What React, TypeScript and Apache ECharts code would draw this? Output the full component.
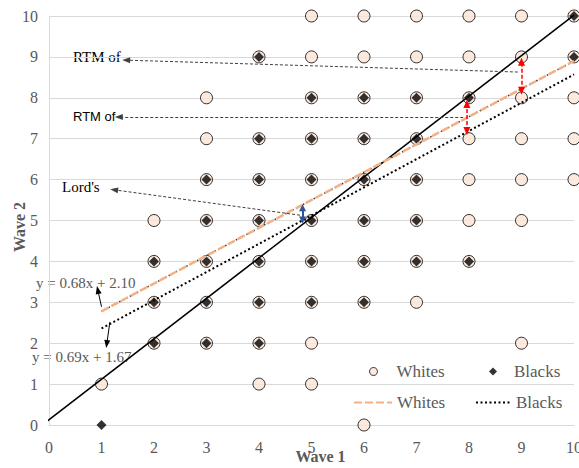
import React, { useEffect, useRef } from "react";
import * as echarts from "echarts";

const SERIF = '"Liberation Serif", "Times New Roman", serif';
const SANS = '"Liberation Sans", Arial, sans-serif';

// Whites (circles) [wave1, wave2]
const whites: [number, number][] = [
  [5, 10], [6, 10], [7, 10], [8, 10], [9, 10], [10, 10],
  [4, 9], [5, 9], [6, 9], [7, 9], [8, 9], [9, 9], [10, 9],
  [3, 8], [5, 8], [6, 8], [7, 8], [8, 8], [9, 8], [10, 8],
  [3, 7], [4, 7], [5, 7], [6, 7], [7, 7], [8, 7], [9, 7], [10, 7],
  [3, 6], [4, 6], [5, 6], [6, 6], [7, 6], [8, 6], [9, 6], [10, 6],
  [2, 5], [3, 5], [4, 5], [5, 5], [6, 5], [7, 5], [8, 5], [9, 5],
  [2, 4], [3, 4], [4, 4], [5, 4], [6, 4], [7, 4], [8, 4],
  [2, 3], [3, 3], [4, 3], [5, 3], [6, 3], [7, 3],
  [2, 2], [3, 2], [4, 2], [5, 2], [9, 2],
  [1, 1], [4, 1], [5, 1],
  [6, 0],
];

// Blacks (diamonds)
const blacks: [number, number][] = [
  [10, 10],
  [4, 9], [10, 9],
  [5, 8], [6, 8], [7, 8], [8, 8],
  [4, 7], [5, 7], [6, 7], [7, 7],
  [3, 6], [4, 6], [5, 6], [6, 6], [7, 6],
  [3, 5], [4, 5], [5, 5], [6, 5], [7, 5],
  [2, 4], [3, 4], [4, 4], [5, 4], [6, 4], [7, 4], [8, 4],
  [2, 3], [3, 3], [4, 3], [5, 3], [6, 3],
  [2, 2], [3, 2], [4, 2],
  [1, 0],
];

// Line endpoints
const identityLine: [number, number][] = [[-0.13, 0], [10, 10.02]];
const whitesTrend: [number, number][] = [[1, 2.78], [10, 8.9]]; // y = 0.68x + 2.10
const blacksTrend: [number, number][] = [[1, 2.36], [10, 8.57]]; // y = 0.69x + 1.67

// Annotation arrows (from -> to, arrowhead at "to")
const labelArrows: { from: [number, number]; to: [number, number] }[] = [
  { from: [8.93, 8.63], to: [1.47, 8.92] },
  { from: [7.89, 7.53], to: [1.33, 7.53] },
  { from: [4.78, 5.13], to: [1.24, 5.75] },
];
const equationArrows: { from: [number, number]; to: [number, number] }[] = [
  { from: [1.0, 2.89], to: [0.93, 3.3] },
  { from: [1.16, 2.52], to: [1.1, 1.98] },
];
const redGaps: { x: number; y1: number; y2: number }[] = [
  { x: 9.0, y1: 8.17, y2: 8.88 },
  { x: 7.96, y1: 7.19, y2: 7.85 },
];
const blueGaps: { x: number; y1: number; y2: number }[] = [
  { x: 4.83, y1: 5.01, y2: 5.31 },
];

const annotationTexts = [
  { text: "RTM of", x: 73, y: 57, font: `15px ${SERIF}`, fill: "#000" },
  { text: "RTM of", x: 73, y: 116, font: `13px ${SANS}`, fill: "#000" },
  { text: "Lord's", x: 62, y: 187, font: `15px ${SERIF}`, fill: "#000" },
  { text: "y = 0.68x + 2.10", x: 36, y: 283, font: `15px ${SERIF}`, fill: "#595959" },
  { text: "y = 0.69x + 1.67", x: 32, y: 357, font: `15px ${SERIF}`, fill: "#595959" },
];

export default function App() {
  const ref = useRef<HTMLDivElement>(null);
  useEffect(() => {
    if (!ref.current) return;
    const chart = echarts.init(ref.current, null, { renderer: "svg" });

    const dashedGray = { color: "#404040", width: 1, type: [3, 2] as number[] };
    const solidBlack = { color: "#000", width: 1, type: "solid" };
    const redStyle = { color: "#ff0000", width: 1.5, type: [4, 2] as number[] };
    const blueStyle = { color: "#2f5597", width: 2, type: "solid" };

    const arrowPair = (from: number[], to: number[], ls: any, both: boolean, size: number[]) => [
      { coord: from, symbol: both ? "triangle" : "none", symbolSize: size, lineStyle: ls, itemStyle: { color: ls.color } },
      { coord: to, symbol: "triangle", symbolSize: size, lineStyle: ls, itemStyle: { color: ls.color } },
    ];

    const markData: any[] = [
      ...labelArrows.map((a) => arrowPair(a.from, a.to, dashedGray, false, [6, 8])),
      ...equationArrows.map((a) => arrowPair(a.from, a.to, solidBlack, false, [6, 8])),
      ...redGaps.map((g) => arrowPair([g.x, g.y1], [g.x, g.y2], redStyle, true, [7, 8])),
      ...blueGaps.map((g) => arrowPair([g.x, g.y1], [g.x, g.y2], blueStyle, true, [7, 7])),
    ];

    const legendText = (padLeft: number) => ({
      fontFamily: SERIF,
      fontSize: 17,
      color: "#595959",
      lineHeight: 17,
      padding: [0, 0, 0, padLeft],
    });
    const legendBase = { padding: 0, selectedMode: false, symbolKeepAspect: true };

    chart.setOption({
      animation: false,
      grid: { left: 49, right: 5, top: 16, bottom: 43, containLabel: false, outerBoundsMode: "none" },
      xAxis: {
        type: "value",
        min: 0,
        max: 10,
        interval: 1,
        axisLine: { show: true, onZero: false, lineStyle: { color: "#d9d9d9" } },
        axisTick: { show: false },
        splitLine: { show: false },
        axisLabel: { color: "#595959", fontFamily: SERIF, fontSize: 16, margin: 14 },
        name: "Wave 1",
        nameLocation: "middle",
        nameGap: 23,
        nameMoveOverlap: false,
        nameTextStyle: { color: "#595959", fontFamily: SERIF, fontSize: 16, fontWeight: "bold", padding: [0, 0, 0, 18] },
      },
      yAxis: {
        type: "value",
        min: 0,
        max: 10,
        interval: 1,
        axisLine: { show: true, lineStyle: { color: "#d9d9d9" } },
        axisTick: { show: false },
        splitLine: { show: true, lineStyle: { color: "#d9d9d9", width: 1 } },
        axisLabel: { color: "#595959", fontFamily: SERIF, fontSize: 16, margin: 11 },
        name: "Wave 2",
        nameLocation: "middle",
        nameGap: 22,
        nameMoveOverlap: false,
        nameTextStyle: { color: "#595959", fontFamily: SERIF, fontSize: 16, fontWeight: "bold", padding: [0, 13, 0, 0] },
      },
      legend: [
        {
          ...legendBase,
          data: [{ name: "Whites", icon: "circle", itemStyle: { color: "#fbe5d6", borderColor: "#000", borderWidth: 1 } }],
          left: 369,
          top: 363,
          itemWidth: 8,
          itemHeight: 8,
          textStyle: legendText(14),
        },
        {
          ...legendBase,
          data: [{ name: "Blacks", icon: "diamond", itemStyle: { color: "#000" } }],
          left: 489,
          top: 363,
          itemWidth: 8,
          itemHeight: 8,
          textStyle: legendText(12),
        },
        {
          ...legendBase,
          data: [{ name: "Whites trend", itemStyle: { opacity: 0 } }],
          left: 353,
          top: 394,
          itemWidth: 38,
          itemHeight: 8,
          formatter: (n: string) => n.replace(" trend", ""),
          textStyle: legendText(0),
        },
        {
          ...legendBase,
          data: [{ name: "Blacks trend", itemStyle: { opacity: 0 } }],
          left: 475,
          top: 394,
          itemWidth: 35,
          itemHeight: 8,
          formatter: (n: string) => n.replace(" trend", ""),
          textStyle: legendText(0),
        },
      ],
      graphic: annotationTexts.map((t) => ({
        type: "text",
        x: t.x,
        y: t.y,
        silent: true,
        style: { text: t.text, font: t.font, fill: t.fill, verticalAlign: "middle" },
      })),
      series: [
        {
          name: "Whites",
          type: "scatter",
          data: whites,
          symbol: "circle",
          symbolSize: 12,
          itemStyle: { color: "#fbe5d6", borderColor: "#000", borderWidth: 1 },
          silent: true,
        },
        {
          name: "Blacks",
          type: "scatter",
          data: blacks,
          symbol: "diamond",
          symbolSize: 10,
          itemStyle: { color: "#000" },
          silent: true,
        },
        {
          name: "Identity",
          type: "line",
          data: identityLine,
          clip: false,
          symbol: "none",
          lineStyle: { color: "#000", width: 1.5 },
          silent: true,
          markLine: {
            silent: true,
            animation: false,
            label: { show: false },
            emphasis: { disabled: true },
            data: markData,
          },
        },
        {
          name: "Whites trend dots",
          type: "line",
          data: whitesTrend,
          symbol: "none",
          lineStyle: { color: "#333", width: 1.5, type: [1.5, 2.5] },
          silent: true,
        },
        {
          name: "Whites trend",
          type: "line",
          data: whitesTrend,
          symbol: "none",
          lineStyle: { color: "#f4b183", width: 2.5, type: [8, 3] },
          itemStyle: { color: "#f4b183" },
          silent: true,
        },
        {
          name: "Blacks trend",
          type: "line",
          data: blacksTrend,
          symbol: "none",
          lineStyle: { color: "#000", width: 2, type: [2, 2.5] },
          itemStyle: { color: "#000" },
          silent: true,
        },
      ],
    });
    return () => chart.dispose();
  }, []);

  return (
    <div
      ref={ref}
      style={{ position: "fixed", left: 0, top: 0, width: 579, height: 468, background: "#fff" }}
    />
  );
}
